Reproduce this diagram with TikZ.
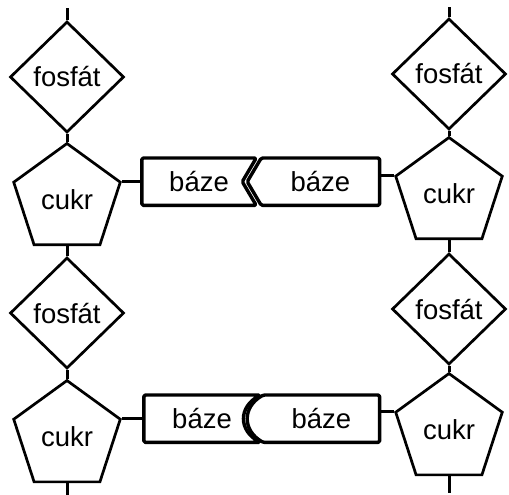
\documentclass[tikz,border=0pt]{standalone}
\usepackage{fontspec}
\setmainfont{Liberation Sans}
\usetikzlibrary{positioning,shapes.geometric}
\begin{document}
\begin{tikzpicture}[x=1pt,y=1pt,
	font=\fontsize{27.5}{32}\selectfont,
	fosfat/.style={diamond,draw,line width=2.7pt,minimum width=114pt,minimum height=111pt,inner sep=0pt},
	cukr/.style={regular polygon,regular polygon sides=5,draw,line width=2.7pt,minimum size=112pt,inner sep=0pt},
	baze/.style={minimum height=47pt,inner sep=0pt},
	obrys/.style={line width=3.4pt,line join=round,rounded corners=1.5pt},
	spoj/.style={line width=3pt}]
	\useasboundingbox (0,0) rectangle (509,495);
	
	\node[fosfat] (f1) at (67,418) {fosfát};
	\node[cukr, below=8pt of f1] (c1) {cukr};
	\node[fosfat, below=10pt of c1] (f2) {fosfát};
	\node[cukr, below=9pt of f2] (c2) {cukr};
	\coordinate[above=12pt of f1] (k1);
	\coordinate[below=20pt of c2] (k2);
	
	\node[fosfat] (f3) at (449,421) {fosfát};
	\node[cukr, below=5pt of f3] (c3) {cukr};
	\node[fosfat, below=12pt of c3] (f4) {fosfát};
	\node[cukr, below=6pt of f4] (c4) {cukr};
	\coordinate[above=10pt of f3] (k3);
	\coordinate[below=17pt of c4] (k4);
	
	\node[baze, minimum width=114pt, right=20pt of c1.corner 5] (b1) {báze};
	\node[baze, minimum width=118pt, right=5pt of b1] (b2) {báze};
	\node[baze, minimum width=116pt, right=22pt of c2.corner 5] (b3) {báze};
	\node[baze, minimum width=116pt, right=3pt of b3] (b4) {báze};
	
	\draw[obrys] (b1.north west) -- (b1.north east) -- ([xshift=-14pt]b1.east) -- (b1.south east) -- (b1.south west) -- cycle;
	\draw[obrys] (b2.north west) -- (b2.north east) -- (b2.south east) -- (b2.south west) -- ([xshift=-14pt]b2.west) -- cycle;
	\draw[obrys] (b3.north west) -- (b3.north east) .. controls +(-22,-12) and +(-22,12) .. (b3.south east) -- (b3.south west) -- cycle;
	\draw[obrys] (b4.north west) .. controls +(-21,-12) and +(-21,12) .. (b4.south west) -- (b4.south east) -- (b4.north east) -- cycle;
	
	\draw[spoj] (k1) -- (f1.north);
	\draw[spoj] (f1.south) -- (c1.north);
	\draw[spoj] (c1.south) -- (f2.north);
	\draw[spoj] (f2.south) -- (c2.north);
	\draw[spoj] (c2.south) -- (k2);
	\draw[spoj] (k3) -- (f3.north);
	\draw[spoj] (f3.south) -- (c3.north);
	\draw[spoj] (c3.south) -- (f4.north);
	\draw[spoj] (f4.south) -- (c4.north);
	\draw[spoj] (c4.south) -- (k4);
	\draw[spoj] (c1.corner 5) -- (b1.west);
	\draw[spoj] (c2.corner 5) -- (b3.west);
	\draw[spoj] (c3.corner 2) -- (c3.corner 2 -| b2.east);
	\draw[spoj] (c4.corner 2) -- (c4.corner 2 -| b4.east);
\end{tikzpicture}
\end{document}
